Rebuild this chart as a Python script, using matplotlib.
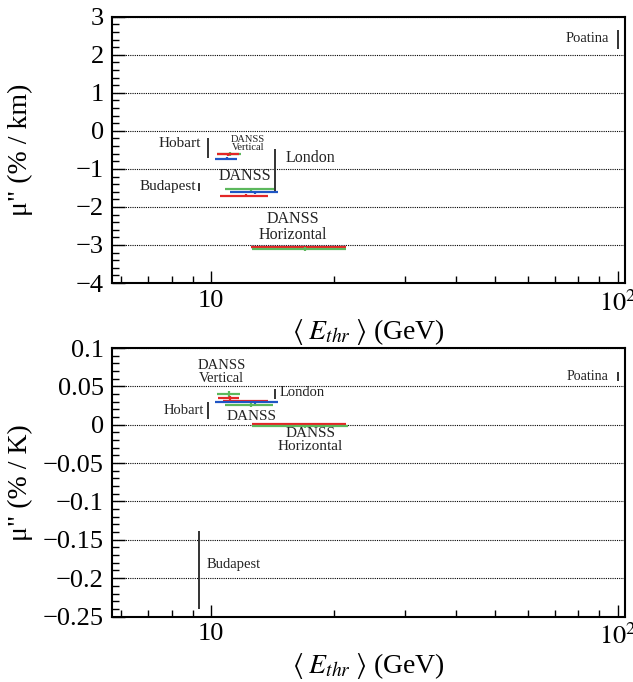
import matplotlib
matplotlib.use("Agg")
import matplotlib.pyplot as plt
from matplotlib.ticker import FixedLocator, FixedFormatter, MultipleLocator, FuncFormatter, NullFormatter

plt.rcParams['font.family'] = ['Liberation Serif', 'DejaVu Serif']
plt.rcParams['mathtext.fontset'] = 'stix'

# DANSS points: (E center, E low, E high, mu, mu err, colour)
red = '#e32626'
green = '#5cb85c'
blue = '#1f55c4'

# top panel, % / km
top_e = [11.1, 10.9, 11.0, 12.5, 12.8, 12.2, 17.0, 17.0, 17.0]
top_elo = [10.35, 10.2, 10.3, 10.8, 11.1, 10.5, 12.5, 12.5, 12.56]
top_ehi = [11.8, 11.6, 11.7, 14.3, 14.55, 13.8, 21.5, 21.4, 21.4]
top_mu = [-0.6, -0.73, -0.62, -1.53, -1.61, -1.71, -3.06, -3.06, -3.1]
top_err = [0.05, 0.04, 0.04, 0.04, 0.04, 0.04, 0.04, 0.04, 0.06]
top_col = [green, blue, red, green, blue, red, blue, red, green]

# bottom panel, % / K
bot_e = [11.04, 11.1, 12.2, 12.8, 12.5, 17.0, 17.0]
bot_elo = [10.3, 10.39, 10.7, 10.2, 10.8, 12.56, 12.56]
bot_ehi = [11.75, 11.7, 13.75, 14.55, 14.2, 21.5, 21.7]
bot_mu = [0.0396, 0.0343, 0.0308, 0.0291, 0.0256, 0.0004, -0.0018]
bot_err = [0.004, 0.003, 0.002, 0.002, 0.003, 0.002, 0.002]
bot_col = [green, red, red, blue, green, red, green]

# other experiments: name, E, mu, err
exp_names = ['Hobart', 'Budapest', 'London', 'Poatina']
exp_e = [9.82, 9.32, 14.34, 100.0]
top_exp_mu = [-0.46, -1.47, -1.04, 2.4]
top_exp_err = [0.26, 0.1, 0.55, 0.24]
bot_exp_mu = [0.019, -0.189, 0.040, 0.063]
bot_exp_err = [0.011, 0.051, 0.006, 0.006]


def minus(v, pos):
    s = '%g' % round(v, 8)
    if s == '-0':
        s = '0'
    return s.replace('-', '\u2212')


def style(ax, ylim, major, minor):
    ax.set_xscale('log')
    ax.set_xlim(5.7, 104)
    ax.set_ylim(*ylim)
    ax.xaxis.set_major_locator(FixedLocator([10, 100]))
    ax.xaxis.set_major_formatter(FixedFormatter(['10', r'$10^2$']))
    ax.xaxis.set_minor_locator(FixedLocator([6, 7, 8, 9, 20, 30, 40, 50, 60, 70, 80, 90]))
    ax.xaxis.set_minor_formatter(NullFormatter())
    ax.yaxis.set_major_locator(MultipleLocator(major))
    ax.yaxis.set_minor_locator(MultipleLocator(minor))
    ax.yaxis.set_major_formatter(FuncFormatter(minus))
    ax.tick_params(which='both', direction='in', top=False, right=False, labelsize=19, width=1)
    ax.tick_params(which='major', length=9)
    ax.tick_params(which='minor', length=5)
    ax.tick_params(axis='x', pad=5)
    ax.tick_params(axis='y', pad=6)
    for s in ax.spines.values():
        s.set_linewidth(1.5)
    ax.yaxis.grid(True, which='major', linestyle=(0, (1, 1)), color='k', lw=0.8)
    ax.set_axisbelow(True)
    ax.set_xlabel(r'$\langle\; E_{thr} \;\rangle$ (GeV)', fontsize=20, labelpad=1)


fig = plt.figure(figsize=(6.33, 6.82), dpi=100)
ax1 = fig.add_axes([0.177, 0.585, 0.81, 0.3905])
ax2 = fig.add_axes([0.177, 0.096, 0.81, 0.3937])

style(ax1, (-4, 3), 1, 0.2)
style(ax2, (-0.25, 0.1), 0.05, 0.01)
ax1.set_ylabel('μ" (% / km)', fontsize=20)
ax2.set_ylabel('μ" (% / K)', fontsize=20)
ax1.yaxis.set_label_coords(-0.154, 0.5)
ax2.yaxis.set_label_coords(-0.154, 0.5)

for i in range(len(top_e)):
    ax1.errorbar(top_e[i], top_mu[i],
                 xerr=[[top_e[i] - top_elo[i]], [top_ehi[i] - top_e[i]]],
                 yerr=top_err[i], fmt='none', ecolor=top_col[i], elinewidth=1.6, capsize=0)
for i in range(len(bot_e)):
    ax2.errorbar(bot_e[i], bot_mu[i],
                 xerr=[[bot_e[i] - bot_elo[i]], [bot_ehi[i] - bot_e[i]]],
                 yerr=bot_err[i], fmt='none', ecolor=bot_col[i], elinewidth=1.6, capsize=0)

ax1.errorbar(exp_e, top_exp_mu, yerr=top_exp_err, fmt='none', ecolor='#333333', elinewidth=1.4, capsize=0)
ax2.errorbar(exp_e, bot_exp_mu, yerr=bot_exp_err, fmt='none', ecolor='#333333', elinewidth=1.4, capsize=0)

tc = '#222222'
# top panel labels
ax1.text(95, 2.44, 'Poatina', ha='right', va='center', fontsize=10.5, color=tc)
ax1.text(9.45, -0.32, 'Hobart', ha='right', va='center', fontsize=11, color=tc)
ax1.text(12.3, -0.33, 'DANSS\nVertical', ha='center', va='center', fontsize=7.5,
         color=tc, linespacing=0.95)
ax1.text(15.2, -0.71, 'London', ha='left', va='center', fontsize=11.5, color=tc)
ax1.text(9.15, -1.46, 'Budapest', ha='right', va='center', fontsize=11, color=tc)
ax1.text(12.1, -1.19, 'DANSS', ha='center', va='center', fontsize=11.5, color=tc)
ax1.text(15.9, -2.53, 'DANSS\nHorizontal', ha='center', va='center', fontsize=11.5,
         color=tc, linespacing=1.0)

# bottom panel labels
ax2.text(95, 0.063, 'Poatina', ha='right', va='center', fontsize=10, color=tc)
ax2.text(9.62, 0.019, 'Hobart', ha='right', va='center', fontsize=10.5, color=tc)
ax2.text(10.6, 0.069, 'DANSS\nVertical', ha='center', va='center', fontsize=10.5,
         color=tc, linespacing=1.0)
ax2.text(14.7, 0.0417, 'London', ha='left', va='center', fontsize=10.5, color=tc)
ax2.text(12.56, 0.0104, 'DANSS', ha='center', va='center', fontsize=11, color=tc)
ax2.text(17.5, -0.02, 'DANSS\nHorizontal', ha='center', va='center', fontsize=11,
         color=tc, linespacing=1.0)
ax2.text(9.73, -0.182, 'Budapest', ha='left', va='center', fontsize=10.5, color=tc)

fig.savefig('out.png', dpi=100)
